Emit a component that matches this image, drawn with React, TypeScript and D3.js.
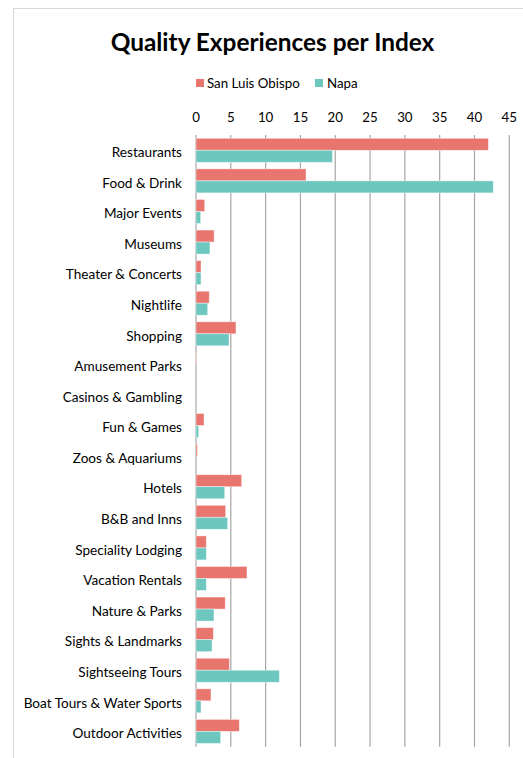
import React from "react";
import * as d3 from "d3";

const categories = [
  "Restaurants", "Food & Drink", "Major Events", "Museums", "Theater & Concerts",
  "Nightlife", "Shopping", "Amusement Parks", "Casinos & Gambling", "Fun & Games",
  "Zoos & Aquariums", "Hotels", "B&B and Inns", "Speciality Lodging", "Vacation Rentals",
  "Nature & Parks", "Sights & Landmarks", "Sightseeing Tours", "Boat Tours & Water Sports",
  "Outdoor Activities",
];
const sanLuisObispo = [42, 15.8, 1.25, 2.6, 0.72, 1.9, 5.74, 0.1, 0, 1.15, 0.2, 6.56, 4.26, 1.48, 7.32, 4.2, 2.49, 4.79, 2.15, 6.22];
const napa = [19.6, 42.7, 0.67, 2.0, 0.72, 1.68, 4.74, 0, 0, 0.38, 0, 4.12, 4.55, 1.48, 1.48, 2.58, 2.3, 11.97, 0.72, 3.54];
const tickValues = [0, 5, 10, 15, 20, 25, 30, 35, 40, 45];
const seriesNames = ["San Luis Obispo", "Napa"];
const colors = ["#E8766F", "#6DC7BF"];

export default function App() {
  const W = 523, H = 758;
  const left = 196, right = 509.3, top = 135, bottom = 746.7;
  const x = d3.scaleLinear().domain([0, 45]).range([left, right]);
  const y = d3.scaleBand().domain(categories).range([top, bottom]).paddingInner(0.215).paddingOuter(0.1075);
  const sub = d3.scaleBand().domain(seriesNames).range([0, y.bandwidth()]);
  const font = "Lato, 'Open Sans', sans-serif";
  const series = [sanLuisObispo, napa];
  return (
    <svg width={W} height={H} style={{ position: "absolute", left: 0, top: 0 }} fontFamily={font}>
      <rect x={0} y={0} width={W} height={H} fill="#fff" />
      <rect x={13.5} y={8.5} width={W + 20} height={H + 20} fill="none" stroke="#D9D9D9" />
      <text x={272.5} y={51} textAnchor="middle" fontWeight="bold" fontSize={24.4} fill="#000">
        Quality Experiences per Index
      </text>
      {/* legend */}
      <rect x={196} y={79} width={8} height={8} fill={colors[0]} />
      <text x={207} y={88} fontSize={13.3} fill="#000">{seriesNames[0]}</text>
      <rect x={315} y={79} width={8} height={8} fill={colors[1]} />
      <text x={327} y={88} fontSize={13.3} fill="#000">{seriesNames[1]}</text>
      {/* gridlines + tick labels */}
      {tickValues.map((t) => (
        <g key={t}>
          <line x1={x(t)} x2={x(t)} y1={top} y2={bottom} stroke="#A6A6A6" strokeWidth={1.2} />
          <text x={x(t)} y={122} textAnchor="middle" fontSize={13.3} fill="#000">{t}</text>
        </g>
      ))}
      {/* bars */}
      {categories.map((c, i) => (
        <g key={c}>
          {series.map((s, j) => (
            s[i] > 0 ? (
              <rect
                key={j}
                x={x(0)}
                y={(y(c) as number) + (sub(seriesNames[j]) as number)}
                width={x(s[i]) - x(0)}
                height={sub.bandwidth()}
                fill={colors[j]}
                stroke="#fff"
                strokeOpacity={0.5}
                strokeWidth={0.8}
              />
            ) : null
          ))}
          <text
            x={182}
            y={(y(c) as number) + y.bandwidth() / 2 + 2}
            dy="0.35em"
            textAnchor="end"
            fontSize={13.6}
            fill="#000"
          >
            {c}
          </text>
        </g>
      ))}
    </svg>
  );
}
